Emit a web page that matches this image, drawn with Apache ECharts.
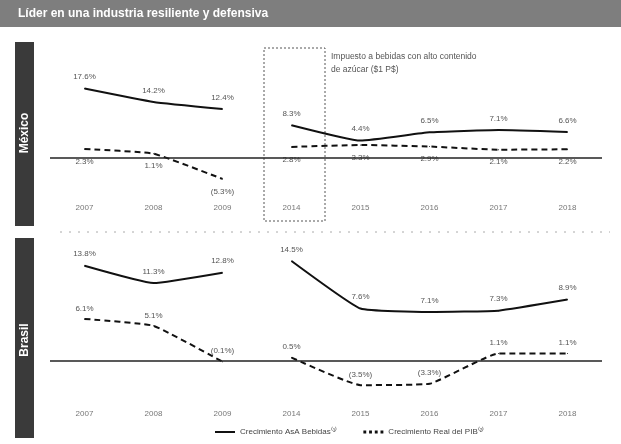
<!DOCTYPE html>
<html>
<head>
<meta charset="utf-8">
<script src="https://cdn.jsdelivr.net/npm/echarts@6/dist/echarts.min.js"></script>
<style>
  html, body { margin: 0; padding: 0; background: #fff; }
  #chart { width: 621px; height: 444px; }
</style>
</head>
<body>
<div id="chart"></div>
<script>
const years = ['2007', '2008', '2009', '2014', '2015', '2016', '2017', '2018']
const mxBebidas = [17.6, 14.2, 12.4, 8.3, 4.4, 6.5, 7.1, 6.6]
const mxPib = [2.3, 1.1, -5.3, 2.8, 3.3, 2.9, 2.1, 2.2]
const brBebidas = [13.8, 11.3, 12.8, 14.5, 7.6, 7.1, 7.3, 8.9]
const brPib = [6.1, 5.1, -0.1, 0.5, -3.5, -3.3, 1.1, 1.1]
const breakIndex = 3 // lines are broken between 2009 and 2014

const nameBebidas = 'Crecimiento AsA Bebidas⁽¹⁾'
const namePib = 'Crecimiento Real del PIB⁽²⁾'

const fmt = (p) => {
  const v = Number(p.value)
  return v < 0 ? '(' + Math.abs(v).toFixed(1) + '%)' : v.toFixed(1) + '%'
}

// one series per side of the break
const seg = (name, arr, part, gridIdx, dashed, labelPos, dist) => ({
  name: name,
  type: 'line',
  xAxisIndex: gridIdx,
  yAxisIndex: gridIdx,
  symbol: 'circle',
  symbolSize: 1,
  showSymbol: true,
  smooth: 0.12,
  data: arr.map((v, i) => ((part === 0 ? i < breakIndex : i >= breakIndex) ? v : '-')),
  lineStyle: { color: '#111', width: 2, type: dashed ? [6, 4] : 'solid' },
  itemStyle: { color: '#111' },
  label: {
    show: true,
    position: labelPos,
    distance: dist,
    formatter: fmt,
    fontSize: 8,
    color: '#555',
    fontFamily: 'Liberation Sans'
  },
  labelLayout: { hideOverlap: false },
  z: 3
})

const zeroLine = (gridIdx) => ({
  type: 'line',
  xAxisIndex: gridIdx,
  yAxisIndex: gridIdx,
  data: [],
  silent: true,
  markLine: {
    symbol: 'none',
    silent: true,
    label: { show: false },
    lineStyle: { color: '#222', width: 1.5, type: 'solid' },
    data: [{ yAxis: 0 }]
  }
})

const xAxisBase = (gridIdx) => ({
  type: 'category',
  gridIndex: gridIdx,
  data: years,
  axisLine: { show: false },
  axisTick: { show: false },
  axisLabel: { color: '#777', fontSize: 8, margin: 14, fontFamily: 'Liberation Sans' }
})

const chart = echarts.init(document.getElementById('chart'))

const option = {
  backgroundColor: '#fff',
  animation: false,
  grid: [
    { left: 50, right: 19, top: 79, height: 110.6 },
    { left: 50, right: 19, top: 250.6, height: 144.9 }
  ],
  xAxis: [xAxisBase(0), xAxisBase(1)],
  yAxis: [
    { type: 'value', gridIndex: 0, min: -8, max: 20, show: false },
    { type: 'value', gridIndex: 1, min: -5, max: 16, show: false }
  ],
  legend: {
    left: 210,
    top: 423,
    itemWidth: 20,
    itemHeight: 3,
    itemGap: 26,
    textStyle: { fontSize: 8, color: '#444', fontFamily: 'Liberation Sans' },
    data: [
      { name: nameBebidas, icon: 'path://M0,0 L20,0 L20,2 L0,2 Z' },
      { name: namePib, icon: 'path://M0,0h3v3h-3z M6,0h3v3h-3z M12,0h3v3h-3z M18,0h3v3h-3z' }
    ]
  },
  series: [
    zeroLine(0),
    zeroLine(1),
    seg(nameBebidas, mxBebidas, 0, 0, false, 'top', 7),
    seg(nameBebidas, mxBebidas, 1, 0, false, 'top', 7),
    seg(namePib, mxPib, 0, 0, true, 'bottom', 8),
    seg(namePib, mxPib, 1, 0, true, 'bottom', 8),
    seg(nameBebidas, brBebidas, 0, 1, false, 'top', 7),
    seg(nameBebidas, brBebidas, 1, 1, false, 'top', 7),
    seg(namePib, brPib, 0, 1, true, 'top', 6),
    seg(namePib, brPib, 1, 1, true, 'top', 6)
  ]
}
chart.setOption(option)

// dotted box round the 2014 column, placed from the axis
const c2014 = chart.convertToPixel({ xAxisIndex: 0 }, '2014')
const band = chart.convertToPixel({ xAxisIndex: 0 }, '2015') - c2014
const boxLeft = c2014 - band / 2 + 7

chart.setOption({
  graphic: [
    {
      type: 'rect',
      shape: { x: 0, y: 0, width: 621, height: 27 },
      style: { fill: '#7e7e7e' }
    },
    {
      type: 'text',
      x: 18,
      y: 14,
      style: {
        text: 'Líder en una industria resiliente y defensiva',
        fill: '#fff',
        font: 'bold 12px "Liberation Sans"',
        verticalAlign: 'middle'
      }
    },
    {
      type: 'rect',
      shape: { x: 15, y: 42, width: 19, height: 184 },
      style: { fill: '#3a3a3a' }
    },
    {
      type: 'text',
      x: 24.5,
      y: 133,
      rotation: Math.PI / 2,
      style: {
        text: 'México',
        fill: '#fff',
        font: 'bold 12px "Liberation Sans"',
        align: 'center',
        verticalAlign: 'middle'
      }
    },
    {
      type: 'rect',
      shape: { x: 15, y: 238, width: 19, height: 200 },
      style: { fill: '#3a3a3a' }
    },
    {
      type: 'text',
      x: 24.5,
      y: 340,
      rotation: Math.PI / 2,
      style: {
        text: 'Brasil',
        fill: '#fff',
        font: 'bold 12px "Liberation Sans"',
        align: 'center',
        verticalAlign: 'middle'
      }
    },
    {
      type: 'line',
      shape: { x1: 60, y1: 232, x2: 610, y2: 232 },
      style: { stroke: '#aaa', lineWidth: 1, lineDash: [2, 7] }
    },
    {
      type: 'rect',
      shape: { x: boxLeft, y: 48, width: band - 8, height: 173 },
      style: { fill: 'none', stroke: '#555', lineWidth: 1, lineDash: [2, 2] }
    },
    {
      type: 'text',
      x: boxLeft + band - 2,
      y: 50,
      style: {
        text: 'Impuesto a bebidas con alto contenido\nde azúcar ($1 P$)',
        fill: '#555',
        font: '8.5px "Liberation Sans"',
        lineHeight: 13
      }
    }
  ]
})
</script>
</body>
</html>
